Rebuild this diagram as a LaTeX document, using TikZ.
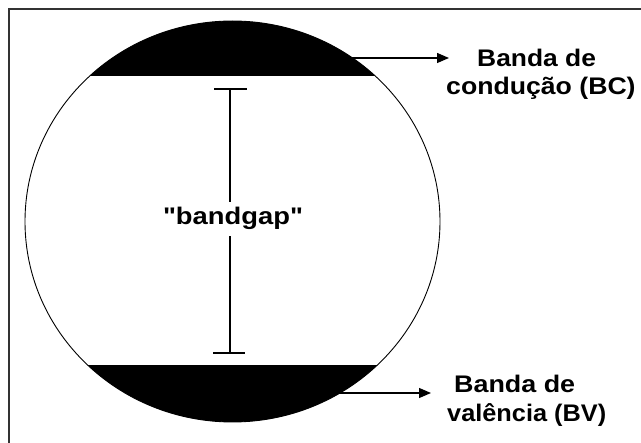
\documentclass[tikz,border=0pt]{standalone}
\usepackage{fontspec}
\newfontfamily\arialish{Liberation Sans}
\usetikzlibrary{arrows.meta}
\begin{document}
\begin{tikzpicture}[x=1pt,y=-1pt,
  lbl/.style={font=\arialish\fontsize{24}{28}\selectfont\bfseries, inner sep=0pt, anchor=base west},
  gaplbl/.style={font=\arialish\fontsize{24}{28}\selectfont\bfseries, fill=white, inner xsep=2pt, inner ysep=6pt, anchor=base},
  ptr/.style={line width=1.3pt, -{Triangle[length=12pt,width=10pt]}},
  framestyle/.style={line width=1.4pt, black!80},
  barstyle/.style={line width=1.8pt},
  ringstyle/.style={line width=0.9pt}]
\useasboundingbox (0,0) rectangle (641,443);
% frame (top and left edges)
\draw[framestyle] (9,443) -- (9,9) -- (641,9);
% bands
\begin{scope}
  \clip (232.5,221.5) ellipse [x radius=207.5pt, y radius=200.5pt];
  \fill[black] (0,0) rectangle (641,76);
  \fill[black] (0,365) rectangle (641,443);
\end{scope}
\draw[ringstyle] (232.5,221.5) ellipse [x radius=207.5pt, y radius=200.5pt];
% bandgap bar
\coordinate (gt) at (230,89);
\coordinate (gb) at (230,353);
\draw[barstyle] (gt) -- (gb);
\draw[barstyle] ([xshift=-16pt]gt) -- ([xshift=17pt]gt);
\draw[barstyle] ([xshift=-17pt]gb) -- ([xshift=15pt]gb);
\node[gaplbl] (gap) at (233,225) {\scalebox{1.14}[1]{"bandgap"}};
% labels
\node[lbl] (bc1) at (477,66.7) {\scalebox{1.10}[1]{Banda de}};
\node[lbl] (bc2) at (446,95) {\scalebox{1.11}[1]{condução (BC)}};
\node[lbl] (bv1) at (454,393) {\scalebox{1.12}[1]{Banda de}};
\node[lbl] (bv2) at (447,422) {\scalebox{1.055}[1]{valência (BV)}};
% arrows
\coordinate (bcs) at (345,58);
\coordinate (bct) at (449,58);
\coordinate (bvs) at (325,393);
\coordinate (bvt) at (431,393);
\draw[ptr] (bcs) -- (bct);
\draw[ptr] (bvs) -- (bvt);
\end{tikzpicture}
\end{document}
